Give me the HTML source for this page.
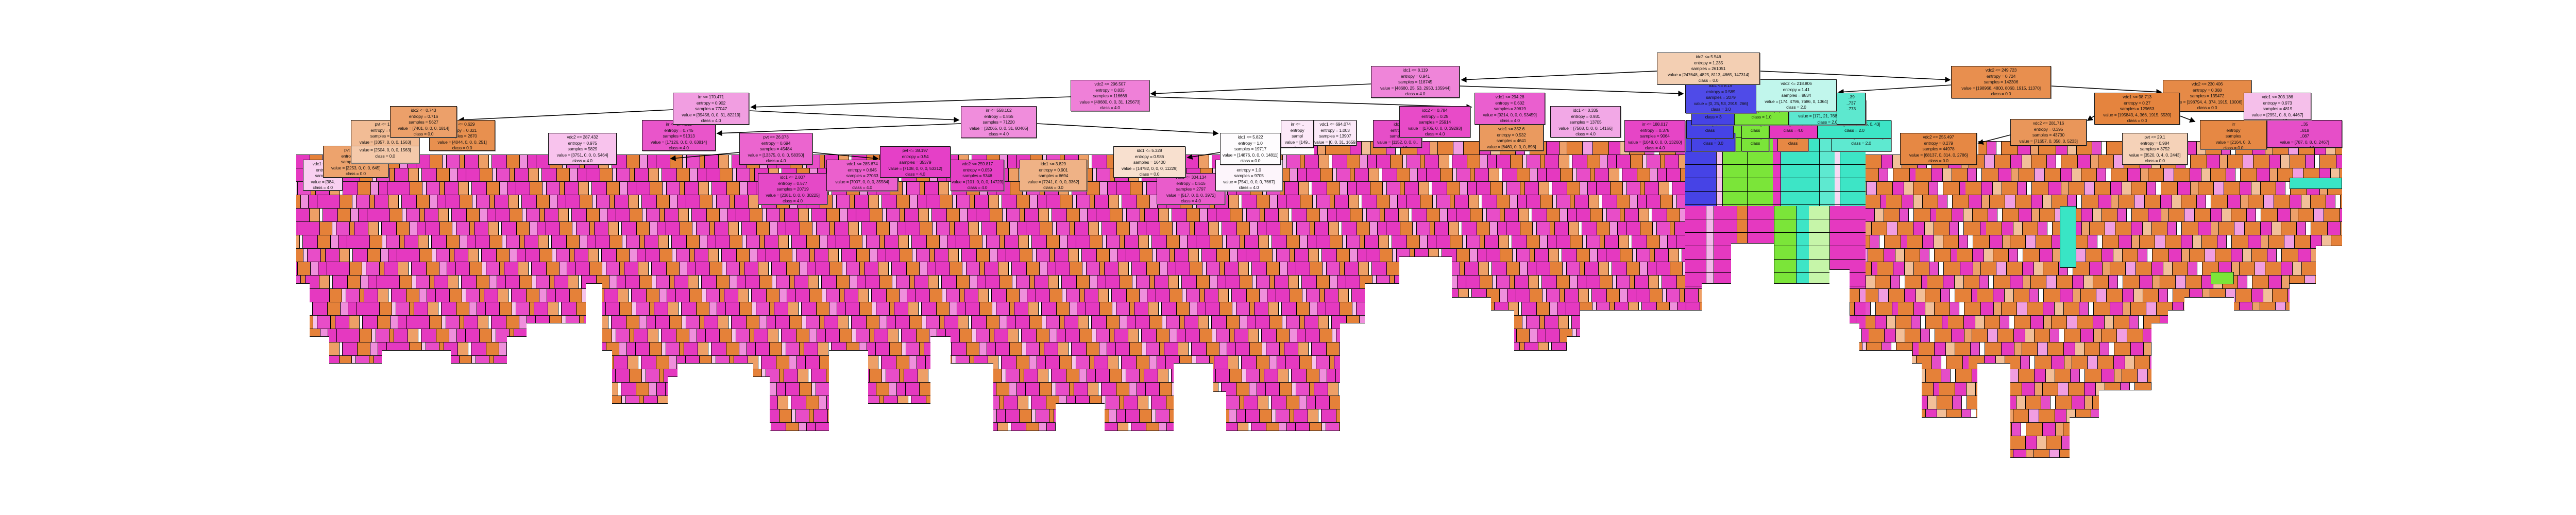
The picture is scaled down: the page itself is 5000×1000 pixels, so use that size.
<!DOCTYPE html>
<html><head><meta charset="utf-8">
<style>
html,body{margin:0;padding:0;background:#fff;overflow:hidden;width:5000px;height:1000px;}
#w{position:relative;width:5000px;height:1000px;overflow:hidden;background:#fff;}
.r{position:absolute;height:27px;box-sizing:border-box;border-top:1px solid #111;border-bottom:1px solid #333;}
.L{background:repeating-linear-gradient(90deg,#e539c0 0 26px,#000 26px 27px,#e58139 27px 50px,#000 50px 51px,#f6c4ec 51px 58px,#000 58px 59px,#e84dc8 59px 84px,#000 84px 85px,#e58139 85px 93px,#000 93px 94px,#e539c0 94px 120px,#000 120px 121px,#ee9f66 121px 140px,#000 140px 141px,#fff 141px 146px,#000 146px 147px,#e539c0 147px 175px,#000 175px 176px,#e58139 176px 200px,#000 200px 201px,#ef8fdc 201px 215px,#000 215px 216px,#e539c0 216px 232px,#000 232px 233px);}
.R{background:repeating-linear-gradient(90deg,#e58139 0 30px,#000 30px 31px,#e539c0 31px 52px,#000 52px 53px,#f2bf99 53px 70px,#000 70px 71px,#e58139 71px 100px,#000 100px 101px,#e54dc8 101px 118px,#000 118px 119px,#fff 119px 128px,#000 128px 129px,#e58139 129px 160px,#000 160px 161px,#e539c0 161px 185px,#000 185px 186px,#eda06a 186px 200px,#000 200px 201px,#e58139 201px 230px,#000 230px 231px,#f19ee1 231px 250px,#000 250px 251px);}
.m{position:absolute;background:#fff;border-top:1px solid #111;bottom:0;}
.n{position:absolute;border:1px solid #111;box-sizing:border-box;font:8.5px/11.6px "Liberation Sans",sans-serif;text-align:center;color:#111;overflow:hidden;white-space:nowrap;padding-top:2px;box-shadow:1px 1px 0 #777;letter-spacing:-0.2px;}
.c{position:absolute;box-sizing:border-box;}
</style></head><body><div id="w">

<div class="r R" style="left:2550px;top:274px;width:720px;background-position-x:40px"></div>
<div class="r R" style="left:3840px;top:274px;width:706px;background-position-x:120px"></div>

<div class="r L" style="left:575px;top:300px;width:3046px;background-position-x:0px"></div>
<div class="r R" style="left:3621px;top:300px;width:925px;background-position-x:0px"></div>
<div class="r L" style="left:575px;top:326px;width:3046px;background-position-x:97px"></div>
<div class="r R" style="left:3621px;top:326px;width:925px;background-position-x:97px"></div>
<div class="r L" style="left:575px;top:352px;width:3046px;background-position-x:194px"></div>
<div class="r R" style="left:3621px;top:352px;width:925px;background-position-x:194px"></div>
<div class="r L" style="left:575px;top:378px;width:3046px;background-position-x:58px"></div>
<div class="r R" style="left:3621px;top:378px;width:925px;background-position-x:40px"></div>
<div class="r L" style="left:575px;top:404px;width:3046px;background-position-x:155px"></div>
<div class="r R" style="left:3621px;top:404px;width:925px;background-position-x:137px"></div>
<div class="r L" style="left:575px;top:430px;width:3046px;background-position-x:19px"></div>
<div class="r R" style="left:3621px;top:430px;width:925px;background-position-x:234px"></div>
<div class="r L" style="left:575px;top:456px;width:3046px;background-position-x:116px"></div>
<div class="r R" style="left:3621px;top:456px;width:925px;background-position-x:80px"></div>
<div class="r L" style="left:575px;top:482px;width:3046px;background-position-x:213px"></div>
<div class="r R" style="left:3621px;top:482px;width:925px;background-position-x:177px"></div>
<div class="r L" style="left:575px;top:508px;width:3046px;background-position-x:77px"></div>
<div class="r R" style="left:3621px;top:508px;width:925px;background-position-x:23px"></div>
<div class="r L" style="left:575px;top:534px;width:3046px;background-position-x:174px"></div>
<div class="r R" style="left:3621px;top:534px;width:925px;background-position-x:120px"></div>
<div class="r L" style="left:575px;top:560px;width:3046px;background-position-x:38px"></div>
<div class="r R" style="left:3621px;top:560px;width:925px;background-position-x:217px"></div>
<div class="r L" style="left:575px;top:586px;width:3046px;background-position-x:135px"></div>
<div class="r R" style="left:3621px;top:586px;width:925px;background-position-x:63px"></div>
<div class="r L" style="left:575px;top:612px;width:3046px;background-position-x:232px"></div>
<div class="r R" style="left:3621px;top:612px;width:925px;background-position-x:160px"></div>
<div class="r L" style="left:575px;top:638px;width:3046px;background-position-x:96px"></div>
<div class="r R" style="left:3621px;top:638px;width:925px;background-position-x:6px"></div>
<div class="r L" style="left:575px;top:664px;width:3046px;background-position-x:193px"></div>
<div class="r R" style="left:3621px;top:664px;width:925px;background-position-x:103px"></div>
<div class="r L" style="left:575px;top:690px;width:3046px;background-position-x:57px"></div>
<div class="r R" style="left:3621px;top:690px;width:925px;background-position-x:200px"></div>
<div class="r L" style="left:575px;top:716px;width:3046px;background-position-x:154px"></div>
<div class="r R" style="left:3621px;top:716px;width:925px;background-position-x:46px"></div>
<div class="r L" style="left:575px;top:742px;width:3046px;background-position-x:18px"></div>
<div class="r R" style="left:3621px;top:742px;width:925px;background-position-x:143px"></div>
<div class="r L" style="left:575px;top:768px;width:3046px;background-position-x:115px"></div>
<div class="r R" style="left:3621px;top:768px;width:925px;background-position-x:240px"></div>
<div class="r L" style="left:575px;top:794px;width:3046px;background-position-x:212px"></div>
<div class="r R" style="left:3621px;top:794px;width:925px;background-position-x:86px"></div>
<div class="r L" style="left:575px;top:820px;width:3046px;background-position-x:76px"></div>
<div class="r R" style="left:3621px;top:820px;width:925px;background-position-x:183px"></div>
<div class="r L" style="left:575px;top:846px;width:3046px;background-position-x:173px"></div>
<div class="r R" style="left:3621px;top:846px;width:925px;background-position-x:29px"></div>
<div class="r L" style="left:575px;top:872px;width:3046px;background-position-x:37px"></div>
<div class="r R" style="left:3621px;top:872px;width:925px;background-position-x:126px"></div>

<div class="c" style="left:3271px;top:242px;width:350px;height:158px;background:repeating-linear-gradient(180deg,transparent 0 25px,#000 25px 26px),linear-gradient(90deg,#4643e6 0 60px,#000 60px 61px,#f7c6ee 61px 72px,#000 72px 73px,#7be539 73px 120px,#000 120px 121px,#7be539 121px 170px,#e539c0 170px 185px,#000 185px 186px,#3de5c6 186px 260px,#000 260px 261px,#5ee9d0 261px 290px,#f7d9f3 290px 300px,#000 300px 301px,#3de5c6 301px 350px);"></div>
<div class="c" style="left:3271px;top:400px;width:350px;height:160px;background:repeating-linear-gradient(180deg,transparent 0 25px,#000 25px 26px),linear-gradient(90deg,#e539c0 0 40px,#000 40px 41px,#f4b6ea 41px 55px,#000 55px 56px,#e539c0 56px 100px,#000 100px 101px,#e58139 101px 120px,#000 120px 121px,#e539c0 121px 172px,#000 172px 173px,#7be539 173px 215px,#000 215px 216px,#3de5c6 216px 240px,#c6f5a9 240px 280px,#000 280px 281px,#e539c0 281px 350px);"></div>
<div class="c" style="left:3998px;top:400px;width:32px;height:120px;background:#39e5c5;border:1px solid #111"></div>
<div class="c" style="left:4291px;top:528px;width:45px;height:24px;background:#7be539;border:1px solid #111"></div>
<div class="c" style="left:4444px;top:345px;width:102px;height:22px;background:#39e5c5;border:1px solid #111"></div>

<div class="m" style="left:575px;width:26px;top:550px"></div>
<div class="m" style="left:601px;width:38px;top:653px"></div>
<div class="m" style="left:639px;width:102px;top:705px"></div>
<div class="m" style="left:741px;width:134px;top:680px"></div>
<div class="m" style="left:875px;width:109px;top:705px"></div>
<div class="m" style="left:984px;width:38px;top:653px"></div>
<div class="m" style="left:1022px;width:115px;top:627px"></div>
<div class="m" style="left:1137px;width:32px;top:550px"></div>
<div class="m" style="left:1169px;width:19px;top:680px"></div>
<div class="m" style="left:1188px;width:108px;top:783px"></div>
<div class="m" style="left:1296px;width:19px;top:731px"></div>
<div class="m" style="left:1315px;width:147px;top:705px"></div>
<div class="m" style="left:1462px;width:32px;top:731px"></div>
<div class="m" style="left:1494px;width:115px;top:836px"></div>
<div class="m" style="left:1609px;width:76px;top:680px"></div>
<div class="m" style="left:1685px;width:121px;top:783px"></div>
<div class="m" style="left:1806px;width:39px;top:653px"></div>
<div class="m" style="left:1845px;width:83px;top:705px"></div>
<div class="m" style="left:1928px;width:121px;top:836px"></div>
<div class="m" style="left:2049px;width:95px;top:783px"></div>
<div class="m" style="left:2144px;width:134px;top:836px"></div>
<div class="m" style="left:2278px;width:77px;top:705px"></div>
<div class="m" style="left:2355px;width:25px;top:760px"></div>
<div class="m" style="left:2380px;width:221px;top:836px"></div>
<div class="m" style="left:2601px;width:48px;top:627px"></div>
<div class="m" style="left:2649px;width:67px;top:550px"></div>
<div class="m" style="left:2716px;width:102px;top:498px"></div>
<div class="m" style="left:2818px;width:76px;top:577px"></div>
<div class="m" style="left:2894px;width:45px;top:602px"></div>
<div class="m" style="left:2939px;width:102px;top:680px"></div>
<div class="m" style="left:3041px;width:26px;top:653px"></div>
<div class="m" style="left:3067px;width:236px;top:602px"></div>
<div class="m" style="left:3303px;width:57px;top:550px"></div>
<div class="m" style="left:3360px;width:83px;top:472px"></div>
<div class="m" style="left:3443px;width:108px;top:550px"></div>
<div class="m" style="left:3551px;width:39px;top:523px"></div>
<div class="m" style="left:3590px;width:19px;top:627px"></div>
<div class="m" style="left:3609px;width:102px;top:680px"></div>
<div class="m" style="left:3711px;width:19px;top:705px"></div>
<div class="m" style="left:3730px;width:108px;top:810px"></div>
<div class="m" style="left:3838px;width:64px;top:705px"></div>
<div class="m" style="left:3902px;width:115px;top:888px"></div>
<div class="m" style="left:4017px;width:57px;top:810px"></div>
<div class="m" style="left:4074px;width:102px;top:757px"></div>
<div class="m" style="left:4176px;width:32px;top:627px"></div>
<div class="m" style="left:4208px;width:32px;top:602px"></div>
<div class="m" style="left:4240px;width:96px;top:577px"></div>
<div class="m" style="left:4336px;width:108px;top:602px"></div>
<div class="m" style="left:4444px;width:51px;top:550px"></div>
<div class="m" style="left:4495px;width:51px;top:477px"></div>

<svg style="position:absolute;left:0;top:0" width="5000" height="1000">
<defs><marker id="a" markerWidth="7" markerHeight="7" refX="6" refY="3.5" orient="auto"><path d="M0,0 L7,3.5 L0,7 z" fill="#000"/></marker></defs>
<g stroke="#000" stroke-width="1.6" fill="none" marker-end="url(#a)">
<line x1="3216" y1="138" x2="2837" y2="155"/>
<line x1="3416" y1="138" x2="3785" y2="155"/>
<line x1="2833" y1="167" x2="3267" y2="182"/>
<line x1="2661" y1="163" x2="2234" y2="182"/>
<line x1="2231" y1="188" x2="2856" y2="208"/>
<line x1="2078" y1="188" x2="1458" y2="208"/>
<line x1="1306" y1="213" x2="891" y2="233"/>
<line x1="1454" y1="215" x2="1861" y2="233"/>
<line x1="1865" y1="240" x2="1392" y2="259"/>
<line x1="2012" y1="240" x2="2364" y2="259"/>
<line x1="3787" y1="165" x2="3569" y2="179"/>
<line x1="3981" y1="167" x2="4195" y2="179"/>
<line x1="3902" y1="262" x2="3840" y2="278"/>
<line x1="1577" y1="296" x2="1704" y2="308"/>
<line x1="1435" y1="296" x2="1302" y2="308"/>
<line x1="2368" y1="296" x2="2305" y2="306"/>
<line x1="4231" y1="225" x2="4260" y2="236"/>
<line x1="4065" y1="225" x2="4052" y2="234"/>
</g></svg>

<div class="n" style="left:588px;top:310px;width:77px;height:60px;background:#f9d0f1">vdc1 &lt;= 2..<br>entropy<br>samples<br>value = [384,<br>class = 4.0</div>
<div class="n" style="left:1471px;top:336px;width:135px;height:61px;background:#e549c7">idc1 &lt;= 2.807<br>entropy = 0.577<br>samples = 20719<br>value = [2381, 0, 0, 0, 30225]<br>class = 4.0</div>
<div class="n" style="left:2245px;top:336px;width:133px;height:61px;background:#e95ccb">vdc1 &lt;= 304.134<br>entropy = 0.515<br>samples = 2797<br>value = [517, 0, 0, 0, 3972]<br>class = 4.0</div>
<div class="n" style="left:1604px;top:310px;width:139px;height:61px;background:#eb60cd">vdc1 &lt;= 285.674<br>entropy = 0.645<br>samples = 27033<br>value = [7007, 0, 0, 0, 35584]<br>class = 4.0</div>
<div class="n" style="left:1845px;top:310px;width:104px;height:61px;background:#e540c5">vdc2 &lt;= 259.817<br>entropy = 0.059<br>samples = 9346<br>value = [101, 0, 0, 0, 14723]<br>class = 4.0</div>
<div class="n" style="left:1979px;top:310px;width:131px;height:61px;background:#efb286">idc1 &lt;= 3.829<br>entropy = 0.901<br>samples = 6694<br>value = [7241, 0, 0, 0, 3362]<br>class = 0.0</div>
<div class="n" style="left:2359px;top:310px;width:130px;height:61px;background:#fdf5fb">idc1 &lt;= 6.617<br>entropy = 1.0<br>samples = 9705<br>value = [7541, 0, 0, 0, 7667]<br>class = 4.0</div>
<div class="n" style="left:1708px;top:284px;width:137px;height:61px;background:#e540c7">pvt &lt;= 38.197<br>entropy = 0.54<br>samples = 35379<br>value = [7108, 0, 0, 0, 53312]<br>class = 4.0</div>
<div class="n" style="left:2161px;top:284px;width:140px;height:61px;background:#f8e0cf">idc1 &lt;= 5.328<br>entropy = 0.986<br>samples = 16400<br>value = [14782, 0, 0, 0, 11229]<br>class = 0.0</div>
<div class="n" style="left:627px;top:283px;width:127px;height:62px;background:#eda36d">pvt &lt;= 21.45<br>entropy = 0.766<br>samples = 1907<br>value = [2253, 0, 0, 0, 645]<br>class = 0.0</div>
<div class="n" style="left:1064px;top:258px;width:133px;height:62px;background:#f8c3ed">vdc2 &lt;= 287.432<br>entropy = 0.975<br>samples = 5829<br>value = [3751, 0, 0, 0, 5464]<br>class = 4.0</div>
<div class="n" style="left:1435px;top:258px;width:142px;height:62px;background:#eb65cf">pvt &lt;= 26.073<br>entropy = 0.694<br>samples = 45484<br>value = [13375, 0, 0, 0, 58350]<br>class = 4.0</div>
<div class="n" style="left:2368px;top:258px;width:118px;height:62px;background:#fefcfe">idc1 &lt;= 5.822<br>entropy = 1.0<br>samples = 19717<br>value = [14876, 0, 0, 0, 14811]<br>class = 0.0</div>
<div class="n" style="left:681px;top:233px;width:133px;height:60px;background:#f2bc95">pvt &lt;= 17.9<br>entropy = 0.902<br>samples = 3102<br>value = [3357, 0, 0, 0, 1563]<br>class = 0.0</div>
<div class="n" style="left:681px;top:283px;width:133px;height:34px;background:#f4c9aa">value = [2504, 0, 0, 0, 1563]<br>class = 0.0</div>
<div class="n" style="left:833px;top:233px;width:128px;height:60px;background:#e8904f">idc2 &lt;= 0.629<br>entropy = 0.321<br>samples = 2670<br>value = [4044, 0, 0, 0, 251]<br>class = 0.0</div>
<div class="n" style="left:1246px;top:233px;width:143px;height:60px;background:#e955ca">irr &lt;= 374.162<br>entropy = 0.745<br>samples = 51313<br>value = [17126, 0, 0, 0, 63814]<br>class = 4.0</div>
<div class="n" style="left:2486px;top:233px;width:64px;height:54px;background:#fce8f8">irr &lt;= ..<br>entropy<br>sampl<br>value = [149..<br>class</div>
<div class="n" style="left:757px;top:206px;width:130px;height:61px;background:#eca06a">idc2 &lt;= 0.743<br>entropy = 0.716<br>samples = 5627<br>value = [7401, 0, 0, 0, 1814]<br>class = 0.0</div>
<div class="n" style="left:1865px;top:206px;width:147px;height:62px;background:#f08ddc">irr &lt;= 558.102<br>entropy = 0.865<br>samples = 71220<br>value = [32065, 0, 0, 31, 80405]<br>class = 4.0</div>
<div class="n" style="left:1306px;top:180px;width:148px;height:62px;background:#f19ee1">irr &lt;= 170.471<br>entropy = 0.902<br>samples = 77047<br>value = [39456, 0, 0, 31, 82219]<br>class = 4.0</div>
<div class="n" style="left:2078px;top:155px;width:153px;height:61px;background:#ef80d8">vdc2 &lt;= 296.507<br>entropy = 0.835<br>samples = 116666<br>value = [48680, 0, 0, 31, 125673]<br>class = 4.0</div>

<div class="n" style="left:2550px;top:233px;width:83px;height:50px;background:#fbe9f8">vdc1 &lt;= 694.074<br>entropy = 1.003<br>samples = 13907<br>value = [0, 0, 31, 1659..<br>class = 4.0</div>
<div class="n" style="left:2665px;top:233px;width:95px;height:54px;background:#e64ec8">idc1<br>entropy<br>samples<br>value = [1152, 0, 0, 8..<br>class = 4.0</div>
<div class="n" style="left:2871px;top:242px;width:125px;height:51px;background:#ea9a5f">vdc1 &lt;= 352.6<br>entropy = 0.532<br>samples = 4641<br>value = [6460, 0, 0, 0, 898]<br>class = 0.0</div>
<div class="n" style="left:2716px;top:206px;width:138px;height:61px;background:#e84bc8">idc2 &lt;= 0.784<br>entropy = 0.25<br>samples = 25914<br>value = [1705, 0, 0, 0, 39293]<br>class = 4.0</div>
<div class="n" style="left:3009px;top:206px;width:137px;height:61px;background:#f2a8e6">idc1 &lt;= 0.335<br>entropy = 0.931<br>samples = 13705<br>value = [7508, 0, 0, 0, 14166]<br>class = 4.0</div>
<div class="n" style="left:3153px;top:233px;width:118px;height:62px;background:#e645c6">irr &lt;= 188.017<br>entropy = 0.378<br>samples = 9064<br>value = [1048, 0, 0, 0, 13260]<br>class = 4.0</div>
<div class="n" style="left:2862px;top:180px;width:137px;height:62px;background:#ea5fcf">vdc1 &lt;= 294.28<br>entropy = 0.602<br>samples = 39619<br>value = [9214, 0, 0, 0, 53459]<br>class = 4.0</div>

<div class="n" style="left:3283px;top:258px;width:85px;height:36px;background:#4643e6">value = [0, 22,<br>class = 3.0</div>
<div class="n" style="left:3380px;top:258px;width:54px;height:36px;background:#7be539">value = [0,<br>class</div>
<div class="n" style="left:3450px;top:258px;width:60px;height:36px;background:#e68844">value = [65,<br>class</div>
<div class="n" style="left:3554px;top:258px;width:117px;height:36px;background:#5ee9d0">value = [29, 0, 128, 0, 0]<br>class = 2.0</div>
<div class="n" style="left:3273px;top:233px;width:92px;height:36px;background:#4643e6">value = [0, 22<br>class</div>
<div class="n" style="left:3380px;top:233px;width:54px;height:36px;background:#7be539">value = [0,<br>class</div>
<div class="n" style="left:3434px;top:233px;width:94px;height:36px;background:#e539c0">value = [100, 0, 0, 0,<br>class = 4.0</div>
<div class="n" style="left:3528px;top:233px;width:143px;height:36px;background:#3de5c6">value = [71, 21, 7685, 0, 43]<br>class = 2.0</div>
<div class="n" style="left:3283px;top:207px;width:85px;height:36px;background:#4643e6">value = [0, 25, 53<br>class = 3</div>
<div class="n" style="left:3366px;top:207px;width:106px;height:36px;background:#7be539">value = [3, 4775, 1, 0, 7<br>class = 1.0</div>
<div class="n" style="left:3472px;top:194px;width:150px;height:49px;background:#5ce8d0">entropy = 0.737<br>samples = 5773<br>value = [171, 21, 7685, 0, 1285]<br>class = 2.0</div>
<div class="n" style="left:3565px;top:180px;width:56px;height:62px;background:#5de8cf">..39<br>..737<br>..773<br><br></div>
<div class="n" style="left:3271px;top:158px;width:138px;height:62px;background:#4f4be8">idc1 &lt;= 8.19<br>entropy = 0.589<br>samples = 2079<br>value = [0, 25, 53, 2919, 266]<br>class = 3.0</div>
<div class="n" style="left:3408px;top:154px;width:157px;height:62px;background:#c1f6ec">vdc2 &lt;= 218.806<br>entropy = 1.41<br>samples = 8834<br>value = [174, 4796, 7686, 0, 1364]<br>class = 2.0</div>

<div class="n" style="left:3688px;top:258px;width:149px;height:62px;background:#e68844">vdc2 &lt;= 255.497<br>entropy = 0.279<br>samples = 44978<br>value = [68137, 0, 314, 0, 2786]<br>class = 0.0</div>
<div class="n" style="left:3902px;top:231px;width:148px;height:52px;background:#e9965a">vdc2 &lt;= 281.716<br>entropy = 0.395<br>samples = 43730<br>value = [71657, 0, 358, 0, 5233]<br>class = 0.0</div>
<div class="n" style="left:4119px;top:258px;width:127px;height:62px;background:#f5d2b8">pvt &lt;= 29.1<br>entropy = 0.984<br>samples = 3752<br>value = [3520, 0, 4, 0, 2443]<br>class = 0.0</div>
<div class="n" style="left:4270px;top:233px;width:130px;height:57px;background:#e68844">irr<br>entropy<br>samples<br>value = [2164, 0, 0,<br>class = 0.0</div>
<div class="n" style="left:4400px;top:233px;width:146px;height:54px;background:#e64ec8">..35<br>..818<br>..087<br>value = [787, 0, 8, 0, 2467]<br>class = 4.0</div>
<div class="n" style="left:4198px;top:155px;width:172px;height:62px;background:#e68a47">vdc2 &lt;= 230.406<br>entropy = 0.368<br>samples = 135472<br>value = [198794, 4, 374, 1915, 10006]<br>class = 0.0</div>
<div class="n" style="left:4065px;top:180px;width:166px;height:62px;background:#e5843e">vdc1 &lt;= 98.713<br>entropy = 0.27<br>samples = 129653<br>value = [195843, 4, 366, 1915, 5539]<br>class = 0.0</div>
<div class="n" style="left:4355px;top:180px;width:131px;height:53px;background:#f5bfea">vdc1 &lt;= 303.186<br>entropy = 0.973<br>samples = 4819<br>value = [2951, 0, 8, 0, 4467]<br>class = 4.0</div>

<div class="n" style="left:2661px;top:128px;width:172px;height:62px;background:#ef85d9">idc1 &lt;= 8.119<br>entropy = 0.941<br>samples = 118745<br>value = [48680, 25, 53, 2950, 135944]<br>class = 4.0</div>
<div class="n" style="left:3787px;top:128px;width:194px;height:63px;background:#e88f4f">vdc2 &lt;= 249.723<br>entropy = 0.724<br>samples = 142306<br>value = [198968, 4800, 8060, 1915, 11370]<br>class = 0.0</div>
<div class="n" style="left:3216px;top:102px;width:200px;height:62px;background:#f3cfb3">idc2 &lt;= 5.546<br>entropy = 1.235<br>samples = 261051<br>value = [247648, 4825, 8113, 4865, 147314]<br>class = 0.0</div>

</div></body></html>
